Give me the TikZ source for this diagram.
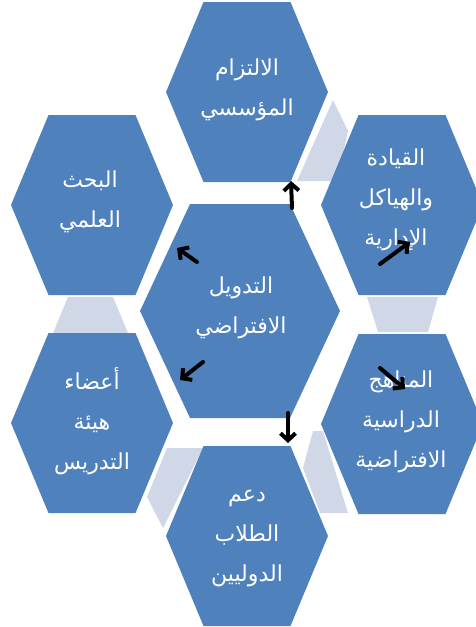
\documentclass[tikz,border=0pt]{standalone}
\usepackage{fontspec}
\usepackage{tikz}
\usetikzlibrary{arrows.meta,positioning}
\newfontfamily\arabicfont[Script=Arabic]{DejaVu Sans}
\TeXXeTstate=1
\definecolor{cellblue}{RGB}{79,129,189}
\definecolor{linkgray}{RGB}{208,216,232}
\newcommand{\artext}[1]{\beginR #1\endR}

\begin{document}
\begin{tikzpicture}[
    x=1pt, y=-1pt,
    cell/.style={fill=cellblue},
    linkfill/.style={fill=linkgray},
    celltext/.style={text=white, align=center, font=\arabicfont\fontsize{22}{40}\selectfont},
    arrow/.style={-{Straight Barb[length=7pt,width=15pt]}, line width=4pt, line cap=round, line join=round}
]
  \useasboundingbox (0,0) rectangle (476,627);

  % Light links between the outer cells
  \fill[linkfill] (333,100) -- (348,131) -- (337,181) -- (297,181) -- cycle;
  \fill[linkfill] (367,297) -- (438,297) -- (428,332) -- (378,332) -- cycle;
  \fill[linkfill] (313,431) -- (323,431) -- (348,513) -- (320,513) -- (303,468) -- cycle;
  \fill[linkfill] (167,448) -- (203,448) -- (163,528) -- (147,497) -- cycle;
  \fill[linkfill] (68,297) -- (113,297) -- (128,333) -- (53,333) -- cycle;

  % Outer cells
  \foreach \cx/\cy in {247/92, 92/205, 402/205, 92/423, 402/424, 247/536}
    \fill[cell, shift={(\cx,\cy)}] (-81,0) -- (-43.5,-90) -- (43.5,-90) -- (81,0) -- (43.5,90) -- (-43.5,90) -- cycle;

  % Centre cell
  \fill[cell, shift={(240,311)}] (-100,0) -- (-50,-107) -- (50,-107) -- (100,0) -- (50,107) -- (-50,107) -- cycle;

  % Texts
  \node[celltext] (commit) at (247,90) {\artext{الالتزام}\\\artext{المؤسسي}};
  \node[celltext] (research) at (90,202) {\artext{البحث}\\\artext{العلمي}};
  \node[celltext] (leader) at (396,200) {\artext{القيادة}\\\artext{والهياكل}\\\artext{الإدارية}};
  \node[celltext] (virtual) at (241,308) {\artext{التدويل}\\\artext{الافتراضي}};
  \node[celltext] (staff) at (92,421) {\artext{أعضاء}\\\artext{هيئة}\\\artext{التدريس}};
  \node[celltext] (curric) at (401,422) {\artext{المناهج}\\\artext{الدراسية}\\\artext{الافتراضية}};
  \node[celltext] (students) at (247,538) {\artext{دعم}\\\artext{الطلاب}\\\artext{الدوليين}};

  % Arrow ends
  \coordinate (upA) at (292,208);
  \coordinate (upB) at (291,181);
  \coordinate (urA) at (380,264);
  \coordinate (urB) at (410,242);
  \coordinate (ulA) at (197,262);
  \coordinate (ulB) at (177,248);
  \coordinate (llA) at (203,362);
  \coordinate (llB) at (180,380);
  \coordinate (lrA) at (380,368);
  \coordinate (lrB) at (405,389);
  \coordinate (dnA) at (288,413);
  \coordinate (dnB) at (288,443);

  % Arrows
  \draw[arrow] (upA) -- (upB);
  \draw[arrow] (urA) -- (urB);
  \draw[arrow] (ulA) -- (ulB);
  \draw[arrow] (llA) -- (llB);
  \draw[arrow] (lrA) -- (lrB);
  \draw[arrow] (dnA) -- (dnB);
\end{tikzpicture}
\end{document}
